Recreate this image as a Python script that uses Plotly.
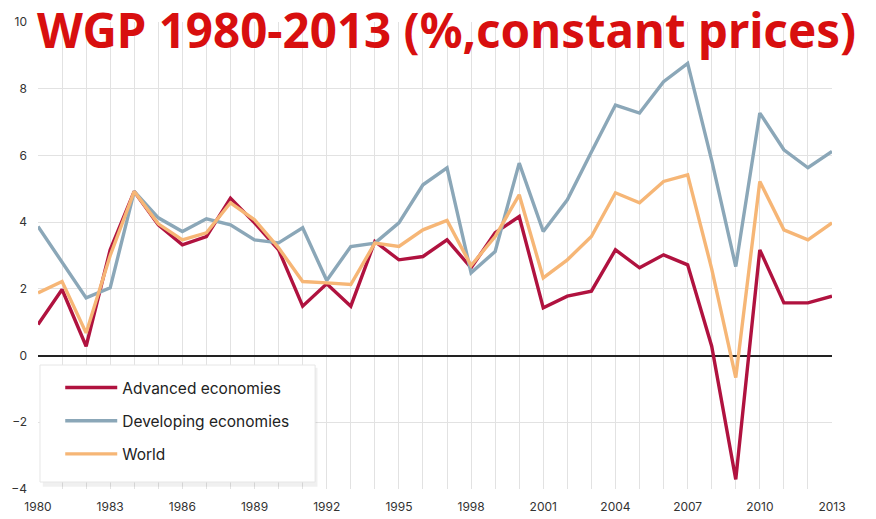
import plotly.graph_objects as go

years = list(range(1980, 2014))
advanced = [0.93, 1.98, 0.28, 3.17, 4.92, 3.92, 3.32, 3.57, 4.72, 3.98, 3.17, 1.48,
            2.15, 1.48, 3.42, 2.87, 2.97, 3.47, 2.63, 3.68, 4.17, 1.43, 1.78, 1.93,
            3.17, 2.63, 3.02, 2.72, 0.28, -3.71, 3.17, 1.58, 1.58, 1.78]
developing = [3.87, 2.80, 1.73, 2.03, 4.92, 4.13, 3.72, 4.10, 3.92, 3.47, 3.38, 3.83,
              2.25, 3.27, 3.37, 3.98, 5.12, 5.63, 2.48, 3.12, 5.77, 3.72, 4.67, 6.10,
              7.51, 7.27, 8.21, 8.76, 5.85, 2.67, 7.27, 6.17, 5.63, 6.12]
world = [1.88, 2.22, 0.68, 3.00, 4.92, 3.95, 3.47, 3.68, 4.58, 4.07, 3.23, 2.22,
         2.18, 2.13, 3.37, 3.27, 3.77, 4.05, 2.70, 3.57, 4.82, 2.33, 2.87, 3.57,
         4.88, 4.58, 5.22, 5.42, 2.60, -0.66, 5.22, 3.77, 3.47, 3.98]

series_names = ["Advanced economies", "Developing economies", "World"]
series_colors = ["#b0123f", "#8ba7b8", "#f6b676"]
tick_years = list(range(1980, 2014, 3))
y_ticks = [-4, -2, 0, 2, 4, 6, 8, 10]
title_text = "WGP 1980-2013 (%,constant prices)"

fig = go.Figure()
for name, vals, col in zip(series_names, [advanced, developing, world], series_colors):
    fig.add_trace(go.Scatter(x=years, y=vals, mode="lines", name=name,
                             legendgroup=name,
                             line=dict(color=col, width=3.4)))

fig.update_layout(
    width=876, height=519,
    margin=dict(l=30, r=52, t=14, b=38),
    paper_bgcolor="white", plot_bgcolor="white",
    font=dict(family="Inter, Roboto, sans-serif", color="#333"),
    showlegend=True,
    legend=dict(x=0.028, y=0.2527, xanchor="left", yanchor="top",
                bgcolor="rgba(0,0,0,0)", borderwidth=0,
                font=dict(size=15.5, color="#222"),
                tracegroupgap=10, itemwidth=52),
    xaxis=dict(range=[1980, 2013], tickvals=tick_years,
               ticktext=[str(t) for t in tick_years],
               showgrid=True, gridcolor="#e2e2e2", gridwidth=1,
               minor=dict(dtick=1, showgrid=True, gridcolor="#e2e2e2", gridwidth=1),
               tickfont=dict(size=12, color="#333"), ticks="",
               showline=False, zeroline=False, ticklabelstandoff=9,
               automargin=False),
    yaxis=dict(range=[-4, 10], tickvals=y_ticks,
               showgrid=True, gridcolor="#e2e2e2", gridwidth=1,
               zeroline=True, zerolinecolor="#222", zerolinewidth=1.5,
               tickfont=dict(size=12, color="#333"), ticks="",
               showline=False, ticklabelstandoff=10, automargin=False),
)

# legend box with soft shadow
fig.add_shape(type="rect", xref="paper", yref="paper",
              x0=0.006, x1=0.352, y0=0.0046, y1=0.2595,
              line=dict(width=0), fillcolor="rgba(0,0,0,0.06)", layer="above")
fig.add_shape(type="rect", xref="paper", yref="paper",
              x0=0.0025, x1=0.349, y0=0.0149, y1=0.2655,
              line=dict(width=1, color="#e6e6e6"), fillcolor="white", layer="above")

fig.add_annotation(x=0.515, y=0.983, xref="paper", yref="paper",
                   xanchor="center", yanchor="middle",
                   text="<b>" + title_text + "</b>", showarrow=False,
                   font=dict(family="Noto Sans, sans-serif", size=47.5, color="#d80f0f"))

fig.write_html("out.html")
